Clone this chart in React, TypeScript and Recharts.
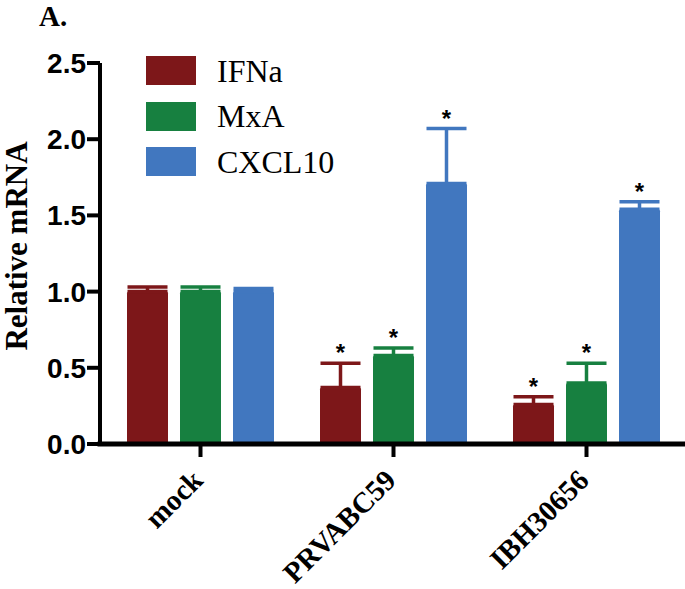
import { BarChart, Bar, XAxis, YAxis, ErrorBar, LabelList, Legend } from "recharts";

const categories = ["mock", "PRVABC59", "IBH30656"];
const ifnaMean = [1.0, 0.37, 0.26];
const ifnaSem = [0.03, 0.16, 0.05];
const mxaMean = [1.0, 0.58, 0.4];
const mxaSem = [0.03, 0.05, 0.13];
const cxclMean = [1.0, 1.71, 1.54];
const cxclSem = [0.02, 0.36, 0.05];
const ifnaSig = [false, true, true];
const mxaSig = [false, true, true];
const cxclSig = [false, true, true];
const yTicks = [0, 0.5, 1, 1.5, 2, 2.5];

const series = [
  { key: "ifna", name: "IFNa", color: "#7d1719", sem: ifnaSem, sig: ifnaSig },
  { key: "mxa", name: "MxA", color: "#178040", sem: mxaSem, sig: mxaSig },
  { key: "cxcl", name: "CXCL10", color: "#4177bf", sem: cxclSem, sig: cxclSig },
];

const data = categories.map((name, i) => ({
  name,
  ifna: ifnaMean[i],
  ifnaErr: [0, ifnaSem[i]],
  mxa: mxaMean[i],
  mxaErr: [0, mxaSem[i]],
  cxcl: cxclMean[i],
  cxclErr: [0, cxclSem[i]],
}));

const serif = "'Liberation Serif', 'Times New Roman', serif";
const sans = "'Liberation Sans', Arial, sans-serif";

// asterisk sits above the error bar cap
function makeStar(sem: number[], sig: boolean[]) {
  return (props: any) => {
    const vb = props.viewBox ?? props;
    const x = vb.x ?? props.x;
    const y = vb.y ?? props.y;
    const w = vb.width ?? props.width;
    const h = Math.abs(vb.height ?? props.height);
    const i = props.index;
    const v = Number(props.value);
    if (i == null || !sig[i] || !v) return null;
    const capY = y - (sem[i] * h) / v;
    return (
      <text x={x + w / 2} y={capY - 2} textAnchor="middle" fontSize={24} fontWeight="bold" fontFamily={sans} fill="#000">
        *
      </text>
    );
  };
}

function XTick(props: any) {
  const { x, y, payload } = props;
  return (
    <g transform={`translate(${x + 4},${y + 23})`}>
      <text transform="rotate(-45)" textAnchor="end" fontSize={29} fontWeight="bold" fontFamily={serif} fill="#000">
        {payload.value}
      </text>
    </g>
  );
}

function LegendBox() {
  return (
    <div>
      {series.map((s) => (
        <div key={s.key} style={{ display: "flex", alignItems: "center", height: 45.5 }}>
          <span style={{ width: 50, height: 29, background: s.color, display: "inline-block" }} />
          <span style={{ marginLeft: 21, fontFamily: serif, fontSize: 32, color: "#000", lineHeight: "32px" }}>{s.name}</span>
        </div>
      ))}
    </div>
  );
}

function YLabel() {
  return (
    <text x={27} y={246} transform="rotate(-90 27 246)" textAnchor="middle" fontSize={31} fontWeight="bold" fontFamily={serif} fill="#000">
      Relative mRNA
    </text>
  );
}

export default function App() {
  return (
    <div style={{ position: "absolute", left: 0, top: 0, width: 685, height: 589, background: "#fff" }}>
      <svg width={90} height={40} style={{ position: "absolute", left: 0, top: 0 }}>
        <text x={39} y={26} fontFamily={serif} fontWeight="bold" fontSize={29} fill="#000">
          A.
        </text>
      </svg>
      <BarChart
        width={685}
        height={589}
        data={data}
        margin={{ top: 63, right: 2, left: 0, bottom: 0 }}
        barSize={41}
        barGap={12}
      >
        <XAxis
          dataKey="name"
          height={145}
          padding={{ left: 4, right: 0 }}
          axisLine={{ stroke: "#000", strokeWidth: 5, strokeLinecap: "square" }}
          tickLine={{ stroke: "#000", strokeWidth: 4 }}
          tickSize={13}
          tick={<XTick />}
          interval={0}
        />
        <YAxis
          width={100}
          domain={[0, 2.5]}
          ticks={yTicks}
          tickFormatter={(v: number) => v.toFixed(1)}
          axisLine={{ stroke: "#000", strokeWidth: 4 }}
          tickLine={{ stroke: "#000", strokeWidth: 4 }}
          tickSize={13}
          tickMargin={1}
          tick={{ fontSize: 28, fontWeight: "bold", fontFamily: sans, fill: "#000" }}
          label={{ content: <YLabel /> }}
        />
        <Legend
          layout="vertical"
          align="center"
          verticalAlign="middle"
          content={<LegendBox />}
          wrapperStyle={{ position: "absolute", left: 146, top: 48, width: 250, height: 140 }}
        />
        {series.map((s) => (
          <Bar key={s.key} dataKey={s.key} name={s.name} fill={s.color} radius={[2, 2, 0, 0]} isAnimationActive={false}>
            <ErrorBar dataKey={`${s.key}Err`} width={20} stroke={s.color} strokeWidth={3.5} direction="y" />
            <LabelList dataKey={s.key} content={makeStar(s.sem, s.sig)} />
          </Bar>
        ))}
      </BarChart>
    </div>
  );
}
